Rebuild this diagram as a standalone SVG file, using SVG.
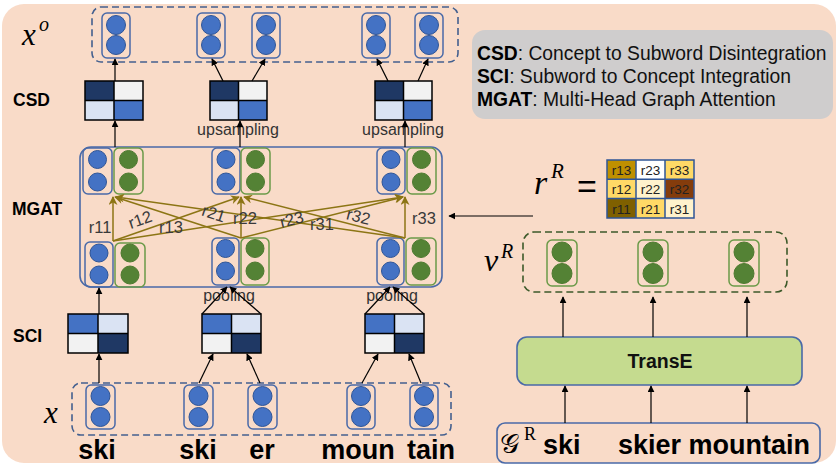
<svg xmlns="http://www.w3.org/2000/svg" width="837" height="465" viewBox="0 0 837 465">
<style>
.bg{fill:#F9DBC8}
.cb{fill:none;stroke:#4A6AA8;stroke-width:1.5}
.cg{fill:none;stroke:#6B9A48;stroke-width:1.5}
.db{fill:#4472C4;stroke:#2F5597;stroke-width:1}
.dg{fill:#548235;stroke:#4E7A30;stroke-width:1}
.dash{fill:none;stroke:#44608F;stroke-width:1.6;stroke-dasharray:7 4}
.dashg{fill:none;stroke:#3D5A2A;stroke-width:1.6;stroke-dasharray:7 4}
.ln{fill:none;stroke:#000;stroke-width:1.2;marker-end:url(#ah)}
.ol{fill:none;stroke:#8C7514;stroke-width:1.5;marker-end:url(#ao)}
.lbl{font-family:"Liberation Sans",Arial,sans-serif;font-weight:bold;font-size:17.5px;fill:#000}
.sm{font-family:"Liberation Sans",Arial,sans-serif;font-size:16px;fill:#333}
.rl{font-family:"Liberation Sans",Arial,sans-serif;font-size:16.5px;fill:#3A3A3A}
.word{font-family:"Liberation Sans",Arial,sans-serif;font-weight:bold;font-size:27px;fill:#000}
.math{font-family:"Liberation Serif","DejaVu Serif",serif;font-style:italic;fill:#000}
.leg{font-family:"Liberation Sans",Arial,sans-serif;font-size:19.3px;fill:#111}
.tb{font-family:"Liberation Sans",Arial,sans-serif;font-size:13.5px;fill:#222;text-anchor:middle}
.mx{stroke:#000;stroke-width:1.5}
</style>
<defs>
<marker id="ah" viewBox="0 0 10 10" refX="9" refY="5" markerWidth="7" markerHeight="7" markerUnits="userSpaceOnUse" orient="auto"><path d="M0,0 L10,5 L0,10 z" fill="#000"/></marker>
<marker id="ao" viewBox="0 0 10 10" refX="9" refY="5" markerWidth="10" markerHeight="9" markerUnits="userSpaceOnUse" orient="auto"><path d="M0,0 L10,5 L0,10 L3,5 z" fill="#8C7514"/></marker>
</defs>

<rect class="bg" x="2" y="4" width="834" height="459" rx="22"/>

<!-- left labels -->
<g id="labels">
<text class="math" x="22" y="45" font-size="31">x</text>
<text class="math" x="39" y="31" font-size="20">o</text>
<text class="lbl" x="13" y="106">CSD</text>
<text class="lbl" x="12" y="215" font-size="18.5">MGAT</text>
<text class="lbl" x="13" y="342">SCI</text>
<text class="math" x="44" y="423" font-size="31">x</text>
</g>

<!-- x^o output row -->
<g id="xo">
<rect class="dash" x="92" y="7" width="366" height="55" rx="9"/>
<g><rect class="cb" x="102" y="13" width="28" height="45" rx="5"/><circle class="db" cx="116" cy="25" r="9.5"/><circle class="db" cx="116" cy="45" r="9.5"/></g>
<g><rect class="cb" x="197" y="13" width="28" height="45" rx="5"/><circle class="db" cx="211" cy="25" r="9.5"/><circle class="db" cx="211" cy="45" r="9.5"/></g>
<g><rect class="cb" x="252" y="13" width="28" height="45" rx="5"/><circle class="db" cx="266" cy="25" r="9.5"/><circle class="db" cx="266" cy="45" r="9.5"/></g>
<g><rect class="cb" x="362" y="13" width="28" height="45" rx="5"/><circle class="db" cx="376" cy="25" r="9.5"/><circle class="db" cx="376" cy="45" r="9.5"/></g>
<g><rect class="cb" x="415" y="13" width="28" height="45" rx="5"/><circle class="db" cx="429" cy="25" r="9.5"/><circle class="db" cx="429" cy="45" r="9.5"/></g>
</g>

<!-- CSD matrices -->
<g id="csd1">
<rect x="85" y="81" width="29" height="19.5" fill="#1F3864"/><rect x="114" y="81" width="29" height="19.5" fill="#F2F2F2"/>
<rect x="85" y="100.5" width="29" height="19.5" fill="#DAE3F3"/><rect x="114" y="100.5" width="29" height="19.5" fill="#4472C4"/>
<path class="mx" fill="none" d="M85,81 h58 v39 h-58 z M114,81 v39 M85,100.5 h58"/>
</g>
<g id="csd2">
<rect x="210" y="81" width="28.5" height="19.5" fill="#1F3864"/><rect x="238.5" y="81" width="28.5" height="19.5" fill="#F2F2F2"/>
<rect x="210" y="100.5" width="28.5" height="19.5" fill="#DAE3F3"/><rect x="238.5" y="100.5" width="28.5" height="19.5" fill="#4472C4"/>
<path class="mx" fill="none" d="M210,81 h57 v39 h-57 z M238.5,81 v39 M210,100.5 h57"/>
</g>
<g id="csd3">
<rect x="375" y="81" width="28.5" height="19.5" fill="#1F3864"/><rect x="403.5" y="81" width="28.5" height="19.5" fill="#F2F2F2"/>
<rect x="375" y="100.5" width="28.5" height="19.5" fill="#DAE3F3"/><rect x="403.5" y="100.5" width="28.5" height="19.5" fill="#4472C4"/>
<path class="mx" fill="none" d="M375,81 h57 v39 h-57 z M403.5,81 v39 M375,100.5 h57"/>
</g>
<text class="sm" x="238" y="135" text-anchor="middle">upsampling</text>
<text class="sm" x="403" y="135" text-anchor="middle">upsampling</text>

<!-- MGAT -->
<g id="mgat">
<rect fill="none" stroke="#4A6AA8" stroke-width="1.6" x="80" y="147" width="362" height="140" rx="11"/>
<g><rect class="cb" x="83" y="148" width="29" height="46" rx="5"/><circle class="db" cx="97.5" cy="159.5" r="9"/><circle class="db" cx="97.5" cy="182" r="9"/></g>
<g><rect class="cg" x="114" y="148" width="29" height="46" rx="5"/><circle class="dg" cx="128.5" cy="159.5" r="9"/><circle class="dg" cx="128.5" cy="182" r="9"/></g>
<g><rect class="cb" x="212" y="148" width="28" height="46" rx="5"/><circle class="db" cx="226" cy="159.5" r="9"/><circle class="db" cx="226" cy="182" r="9"/></g>
<g><rect class="cg" x="241" y="148" width="29" height="46" rx="5"/><circle class="dg" cx="255.5" cy="159.5" r="9"/><circle class="dg" cx="255.5" cy="182" r="9"/></g>
<g><rect class="cb" x="377" y="148" width="28" height="46" rx="5"/><circle class="db" cx="391" cy="159.5" r="9"/><circle class="db" cx="391" cy="182" r="9"/></g>
<g><rect class="cg" x="407" y="148" width="29" height="46" rx="5"/><circle class="dg" cx="421.5" cy="159.5" r="9"/><circle class="dg" cx="421.5" cy="182" r="9"/></g>

<g><rect class="cb" x="85" y="242" width="28" height="45" rx="5"/><circle class="db" cx="99" cy="253" r="9"/><circle class="db" cx="99" cy="275" r="9"/></g>
<g><rect class="cg" x="115" y="243" width="30" height="44" rx="5"/><circle class="dg" cx="130" cy="253" r="9"/><circle class="dg" cx="130" cy="275" r="9"/></g>
<g><rect class="cb" x="212" y="238" width="27" height="47" rx="5"/><circle class="db" cx="225.5" cy="248.5" r="9"/><circle class="db" cx="225.5" cy="271" r="9"/></g>
<g><rect class="cg" x="241" y="238" width="28" height="47" rx="5"/><circle class="dg" cx="255" cy="248.5" r="9"/><circle class="dg" cx="255" cy="271" r="9"/></g>
<g><rect class="cb" x="377" y="238" width="27" height="47" rx="5"/><circle class="db" cx="390.5" cy="248.5" r="9"/><circle class="db" cx="390.5" cy="271" r="9"/></g>
<g><rect class="cg" x="406" y="238" width="30" height="47" rx="5"/><circle class="dg" cx="421" cy="248.5" r="9"/><circle class="dg" cx="421" cy="271" r="9"/></g>
</g>

<!-- SCI matrices -->
<g id="sci1">
<rect x="68" y="314" width="30" height="19.5" fill="#4472C4"/><rect x="98" y="314" width="30" height="19.5" fill="#DAE3F3"/>
<rect x="68" y="333.5" width="30" height="19.5" fill="#F2F2F2"/><rect x="98" y="333.5" width="30" height="19.5" fill="#1F3864"/>
<path class="mx" fill="none" d="M68,314 h60 v39 h-60 z M98,314 v39 M68,333.5 h60"/>
</g>
<g id="sci2">
<rect x="202" y="314" width="29.5" height="19.5" fill="#4472C4"/><rect x="231.5" y="314" width="29.5" height="19.5" fill="#DAE3F3"/>
<rect x="202" y="333.5" width="29.5" height="19.5" fill="#F2F2F2"/><rect x="231.5" y="333.5" width="29.5" height="19.5" fill="#1F3864"/>
<path class="mx" fill="none" d="M202,314 h59 v39 h-59 z M231.5,314 v39 M202,333.5 h59"/>
</g>
<g id="sci3">
<rect x="365" y="314" width="29.5" height="19.5" fill="#4472C4"/><rect x="394.5" y="314" width="29.5" height="19.5" fill="#DAE3F3"/>
<rect x="365" y="333.5" width="29.5" height="19.5" fill="#F2F2F2"/><rect x="394.5" y="333.5" width="29.5" height="19.5" fill="#1F3864"/>
<path class="mx" fill="none" d="M365,314 h59 v39 h-59 z M394.5,314 v39 M365,333.5 h59"/>
</g>
<text class="sm" x="229" y="301" text-anchor="middle">pooling</text>
<text class="sm" x="392" y="301" text-anchor="middle">pooling</text>

<!-- x input row -->
<g id="xin">
<rect class="dash" x="72" y="383" width="379" height="52" rx="9"/>
<g><rect class="cb" x="86" y="385" width="29" height="44" rx="5"/><circle class="db" cx="100.5" cy="396" r="9.5"/><circle class="db" cx="100.5" cy="417" r="9.5"/></g>
<g><rect class="cb" x="184" y="385" width="29" height="44" rx="5"/><circle class="db" cx="198.5" cy="396" r="9.5"/><circle class="db" cx="198.5" cy="417" r="9.5"/></g>
<g><rect class="cb" x="248" y="385" width="29" height="44" rx="5"/><circle class="db" cx="262.5" cy="396" r="9.5"/><circle class="db" cx="262.5" cy="417" r="9.5"/></g>
<g><rect class="cb" x="347" y="385" width="28" height="44" rx="5"/><circle class="db" cx="361" cy="396" r="9.5"/><circle class="db" cx="361" cy="417" r="9.5"/></g>
<g><rect class="cb" x="410" y="385" width="28" height="44" rx="5"/><circle class="db" cx="424" cy="396" r="9.5"/><circle class="db" cx="424" cy="417" r="9.5"/></g>
</g>
<g id="words">
<text class="word" x="97" y="459" text-anchor="middle">ski</text>
<text class="word" x="198" y="459" text-anchor="middle">ski</text>
<text class="word" x="262" y="459" text-anchor="middle">er</text>
<text class="word" x="358" y="459" text-anchor="middle">moun</text>
<text class="word" x="431" y="459" text-anchor="middle">tain</text>
</g>

<!-- legend -->
<g id="legend">
<rect x="472" y="30" width="361" height="89" rx="13" fill="#CFCDCD"/>
<text class="leg" x="477" y="60"><tspan font-weight="bold" fill="#000">CSD</tspan>: Concept to Subword Disintegration</text>
<text class="leg" x="477" y="83"><tspan font-weight="bold" fill="#000">SCI</tspan>: Subword to Concept Integration</text>
<text class="leg" x="477" y="106"><tspan font-weight="bold" fill="#000">MGAT</tspan>: Multi-Head Graph Attention</text>
</g>

<!-- r^R table -->
<g id="rR">
<text class="math" x="534" y="194" font-size="34">r</text>
<text class="math" x="551" y="178" font-size="21">R</text>
<text x="577" y="198" font-family="Liberation Sans,Arial,sans-serif" font-size="34" fill="#000">=</text>
<rect x="607" y="160" width="29" height="19.3" fill="#BF9000"/>
<rect x="636" y="160" width="29" height="19.3" fill="#FFFFFF"/>
<rect x="665" y="160" width="29" height="19.3" fill="#FFD966"/>
<rect x="607" y="179.3" width="29" height="19.3" fill="#FFD966"/>
<rect x="636" y="179.3" width="29" height="19.3" fill="#FFF2CC"/>
<rect x="665" y="179.3" width="29" height="19.3" fill="#843C0C"/>
<rect x="607" y="198.6" width="29" height="19.4" fill="#7F6000"/>
<rect x="636" y="198.6" width="29" height="19.4" fill="#FFD966"/>
<rect x="665" y="198.6" width="29" height="19.4" fill="#FFF2CC"/>
<path fill="none" stroke="#2F5597" stroke-width="1.5" d="M607,160 h87 v58 h-87 z M636,160 v58 M665,160 v58 M607,179.3 h87 M607,198.6 h87"/>
<text class="tb" x="621.5" y="175">r13</text><text class="tb" x="650.5" y="175">r23</text><text class="tb" x="679.5" y="175">r33</text>
<text class="tb" x="621.5" y="194">r12</text><text class="tb" x="650.5" y="194">r22</text><text class="tb" x="679.5" y="194">r32</text>
<text class="tb" x="621.5" y="213.5">r11</text><text class="tb" x="650.5" y="213.5">r21</text><text class="tb" x="679.5" y="213.5">r31</text>
</g>

<!-- v^R -->
<g id="vR">
<text class="math" x="484" y="271" font-size="32">v</text>
<text class="math" x="501" y="258" font-size="20">R</text>
<rect class="dashg" x="523" y="232" width="264" height="60" rx="11"/>
<g><rect class="cg" x="547" y="240" width="30" height="46" rx="5"/><circle class="dg" cx="562" cy="252" r="10"/><circle class="dg" cx="562" cy="273.5" r="10"/></g>
<g><rect class="cg" x="638" y="240" width="30" height="46" rx="5"/><circle class="dg" cx="653" cy="252" r="10"/><circle class="dg" cx="653" cy="273.5" r="10"/></g>
<g><rect class="cg" x="729" y="240" width="30" height="46" rx="5"/><circle class="dg" cx="744" cy="252" r="10"/><circle class="dg" cx="744" cy="273.5" r="10"/></g>
</g>

<!-- TransE -->
<g id="transe">
<rect x="517" y="337" width="285" height="48" rx="10" fill="#C5DB8F" stroke="#4A6AA8" stroke-width="1.6"/>
<text x="660" y="368" text-anchor="middle" font-family="Liberation Sans,Arial,sans-serif" font-weight="bold" font-size="19.5" fill="#111">TransE</text>
</g>

<!-- G^R -->
<g id="gR">
<rect x="497" y="423" width="323" height="40" rx="8" fill="none" stroke="#4A6AA8" stroke-width="1.6"/>
<text x="500" y="453" font-family="DejaVu Serif,Liberation Serif,serif" font-size="27" fill="#000">𝒢</text>
<text x="524" y="440" font-family="Liberation Serif,serif" font-size="18" fill="#000">R</text>
<text class="word" x="543" y="454" font-size="28">ski</text>
<text class="word" x="618" y="454" font-size="28">skier mountain</text>
</g>

<!-- connectors -->
<g id="connectors">
<line class="ln" x1="115" y1="81" x2="115" y2="59"/>
<line class="ln" x1="223" y1="81" x2="212" y2="59"/>
<line class="ln" x1="252" y1="81" x2="265" y2="59"/>
<line class="ln" x1="388" y1="81" x2="377" y2="59"/>
<line class="ln" x1="418" y1="81" x2="428" y2="59"/>

<line class="ln" x1="115" y1="147" x2="115" y2="121"/>
<line class="ln" x1="240" y1="147" x2="240" y2="121"/>
<line class="ln" x1="405" y1="147" x2="405" y2="121"/>

<line class="ol" x1="113" y1="241" x2="113" y2="197"/>
<line class="ol" x1="113" y1="241" x2="239" y2="197"/>
<line class="ol" x1="113" y1="241" x2="403" y2="197"/>
<line class="ol" x1="241" y1="238" x2="115" y2="197"/>
<line class="ol" x1="241" y1="238" x2="241" y2="197"/>
<line class="ol" x1="241" y1="238" x2="403" y2="197"/>
<line class="ol" x1="405" y1="238" x2="116" y2="197"/>
<line class="ol" x1="405" y1="238" x2="244" y2="197"/>
<line class="ol" x1="405" y1="238" x2="405" y2="197"/>

<line class="ln" x1="99" y1="314" x2="99" y2="288"/>
<line class="ln" x1="202" y1="314" x2="227" y2="287"/>
<line class="ln" x1="261" y1="314" x2="230" y2="287"/>
<line class="ln" x1="365" y1="314" x2="390" y2="287"/>
<line class="ln" x1="424" y1="314" x2="393" y2="287"/>

<line class="ln" x1="99" y1="383" x2="99" y2="354"/>
<line class="ln" x1="199" y1="383" x2="213" y2="354"/>
<line class="ln" x1="260" y1="383" x2="247" y2="354"/>
<line class="ln" x1="362" y1="383" x2="378" y2="354"/>
<line class="ln" x1="421" y1="383" x2="409" y2="354"/>

<line class="ln" x1="533" y1="216" x2="449" y2="216"/>

<line class="ln" x1="563" y1="337" x2="563" y2="297"/>
<line class="ln" x1="653" y1="337" x2="653" y2="297"/>
<line class="ln" x1="747" y1="337" x2="747" y2="297"/>
<line class="ln" x1="565" y1="423" x2="565" y2="386"/>
<line class="ln" x1="651" y1="423" x2="651" y2="386"/>
<line class="ln" x1="747" y1="423" x2="747" y2="386"/>
</g>

<!-- relation labels -->
<g id="rlabels">
<text class="rl" x="100" y="233" text-anchor="middle">r11</text>
<text class="rl" x="0" y="0" text-anchor="middle" transform="translate(142,225) rotate(-19)">r12</text>
<text class="rl" x="171" y="233" text-anchor="middle">r13</text>
<text class="rl" x="0" y="0" text-anchor="middle" transform="translate(212,219) rotate(18)">r21</text>
<text class="rl" x="245" y="224" text-anchor="middle">r22</text>
<text class="rl" x="0" y="0" text-anchor="middle" transform="translate(293,225) rotate(-14)">r23</text>
<text class="rl" x="322" y="230" text-anchor="middle">r31</text>
<text class="rl" x="0" y="0" text-anchor="middle" transform="translate(357,222) rotate(14)">r32</text>
<text class="rl" x="424" y="224" text-anchor="middle">r33</text>
</g>
</svg>
